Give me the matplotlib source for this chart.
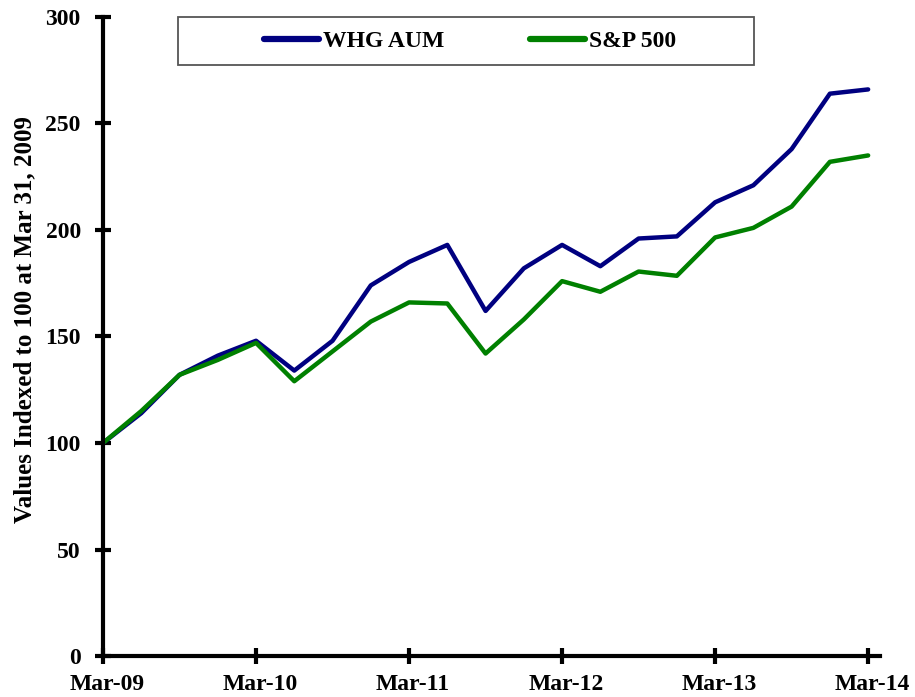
import matplotlib
matplotlib.use("Agg")
import matplotlib.pyplot as plt
import matplotlib.transforms as mtransforms
from matplotlib.patches import Rectangle

plt.rcParams['font.family'] = ['Liberation Serif', 'DejaVu Serif']
plt.rcParams['font.weight'] = 'bold'

quarters = list(range(21))
tick_labels = ["Mar-09", "Mar-10", "Mar-11", "Mar-12", "Mar-13", "Mar-14"]
whg_aum = [100, 114, 132, 141, 148, 134, 148, 174, 185, 193, 162, 182,
           193, 183, 196, 197, 213, 221, 238, 264, 266]
sp500 = [100, 115, 132, 139, 147, 129, 143, 157, 166, 165.5, 142, 158,
         176, 171, 180.5, 178.5, 196.5, 201, 211, 232, 235]

W, H = 915, 697
fig = plt.figure(figsize=(W / 100, H / 100), dpi=100)
ax = fig.add_axes([103 / W, (H - 656) / H, (880 - 103) / W, (656 - 17) / H])

ax.plot(quarters, whg_aum, color='#000080', lw=3.2, label='WHG AUM', solid_capstyle='round')
ax.plot(quarters, sp500, color='#008000', lw=3.2, label='S&P 500', solid_capstyle='round')

ax.set_xlim(0, 20.31)
ax.set_ylim(0, 300)
ax.set_yticks(range(0, 301, 50))
ax.set_xticks(range(0, 21, 4))
ax.set_xticklabels(tick_labels)
for s in ['top', 'right']:
    ax.spines[s].set_visible(False)
for s in ['left', 'bottom']:
    ax.spines[s].set_linewidth(3)
ax.tick_params(direction='inout', length=12, width=3, labelsize=17)
ax.tick_params(axis='y', pad=10)
ax.tick_params(axis='x', pad=7)
offset = mtransforms.ScaledTranslation(4 / 100, 0, fig.dpi_scale_trans)
for lab in ax.get_xticklabels():
    lab.set_transform(lab.get_transform() + offset)
for lab in ax.get_xticklabels() + ax.get_yticklabels():
    lab.set_fontweight('bold')

fig.text(25 / W, (H - 320) / H, 'Values Indexed to 100 at Mar 31, 2009',
         rotation=90, fontsize=18, fontweight='bold', ha='center', va='center')

# legend frame box
fig.patches.append(Rectangle((178 / W, (H - 65) / H), (754 - 178) / W, (65 - 17) / H,
                             transform=fig.transFigure, fill=False,
                             edgecolor='#555555', linewidth=1.3, zorder=5))
leg = ax.legend(loc='center', bbox_to_anchor=(470 / W, (H - 41) / H),
                bbox_transform=fig.transFigure, ncol=2, frameon=False,
                prop={'weight': 'bold', 'size': 17},
                handlelength=2.33, handletextpad=0.2, columnspacing=3.6, borderpad=0.2)
for ln in leg.get_lines():
    ln.set_linewidth(4.5)

fig.savefig('out.png', dpi=100)
